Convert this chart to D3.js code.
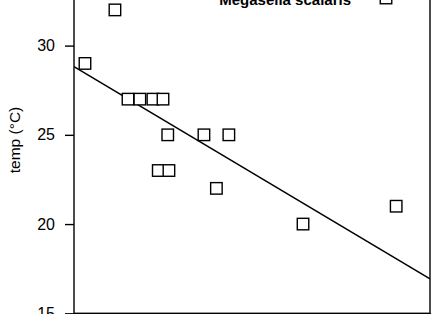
<!DOCTYPE html>
<html>
<head>
<meta charset="utf-8">
<script src="https://cdn.jsdelivr.net/npm/d3@7"></script>
<style>
  body { margin: 0; background: #fff; }
  svg { display: block; }
  .tick text { font-family: "Liberation Sans Narrow", "Liberation Sans", Arial, sans-serif; font-size: 16px; fill: #000; }
  .tick line { stroke: #000; stroke-width: 1.4px; }
</style>
</head>
<body>
<div id="chart"></div>
<script>
// data (x in axis units, 0..60, ticks every 10)
var xVals = [1.85, 6.9, 9.1, 11.1, 13.3, 15.0, 15.8, 21.9, 26.1, 14.2, 16.0, 24.0, 38.6, 54.3];
var tempVals = [29, 32, 27, 27, 27, 27, 25, 25, 25, 23, 23, 22, 20, 21];
var fitX = [0, 60];
var fitY = [28.82, 16.93];
var yTicks = [15, 20, 25, 30];
var xTicks = [0, 10, 20, 30, 40, 50, 60];
var seriesName = "Megaselia scalaris";

var width = 440, height = 314;
var padLeft = 74, padRight = 430, padTop = -20, padBottom = 313.3;

var svg = d3.select("#chart").append("svg")
    .attr("width", width)
    .attr("height", height);

var x = d3.scaleLinear().domain([0, 60]).range([padLeft, padRight]);
var y = d3.scaleLinear().domain([15, 30]).range([padBottom, 45.6]);

svg.append("defs").append("clipPath").attr("id", "clip")
  .append("rect")
    .attr("x", padLeft).attr("y", padTop)
    .attr("width", padRight - padLeft).attr("height", padBottom - padTop);

// frame
svg.append("rect")
    .attr("x", padLeft).attr("y", padTop)
    .attr("width", padRight - padLeft).attr("height", padBottom - padTop)
    .attr("fill", "none")
    .attr("stroke", "#000")
    .attr("stroke-width", 1.4);

svg.append("g")
    .attr("transform", "translate(" + padLeft + ",0)")
    .call(d3.axisLeft(y).tickValues(yTicks).tickSize(9).tickPadding(10).tickSizeOuter(0))
    .call(function(g) { g.select(".domain").remove(); });

// x tick labels fall below the visible area in the reference
svg.append("g")
    .attr("transform", "translate(0," + padBottom + ")")
    .call(d3.axisBottom(x).tickValues(xTicks).tickSize(9).tickFormat(""))
    .call(function(g) { g.select(".domain").remove(); });

// y label
svg.append("text")
    .attr("transform", "translate(20,140) rotate(-90)")
    .attr("text-anchor", "middle")
    .style("font-family", "'Liberation Sans', Arial, sans-serif")
    .style("font-size", "15.5px")
    .text("temp (\u00B0C)");

// regression line
svg.append("line")
    .attr("clip-path", "url(#clip)")
    .attr("x1", x(fitX[0])).attr("y1", y(fitY[0]))
    .attr("x2", x(fitX[1])).attr("y2", y(fitY[1]))
    .attr("stroke", "#000")
    .attr("stroke-width", 1.5);

// points
var s = 11.5;
svg.selectAll(".pt")
    .data(xVals.map(function(v, i) { return {x: v, t: tempVals[i]}; }))
    .enter().append("rect")
    .attr("class", "pt")
    .attr("x", function(d) { return x(d.x) - s / 2; })
    .attr("y", function(d) { return y(d.t) - s / 2; })
    .attr("width", s)
    .attr("height", s)
    .attr("fill", "#fff")
    .attr("stroke", "#000")
    .attr("stroke-width", 1.4);

// legend
svg.append("text")
    .attr("x", 351)
    .attr("y", 5)
    .attr("text-anchor", "end")
    .style("font-family", "'Liberation Sans Narrow', 'Liberation Sans', Arial, sans-serif")
    .style("font-weight", "bold")
    .style("font-size", "15px")
    .text(seriesName);

svg.append("rect")
    .attr("x", 386 - s / 2)
    .attr("y", -2 - s / 2)
    .attr("width", s)
    .attr("height", s)
    .attr("fill", "#fff")
    .attr("stroke", "#000")
    .attr("stroke-width", 1.4);
</script>
</body>
</html>
